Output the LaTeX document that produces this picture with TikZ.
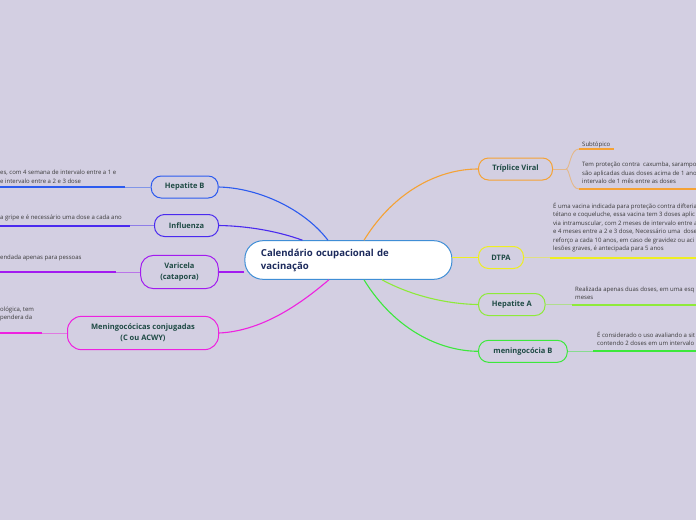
\documentclass[tikz,border=0pt]{standalone}
\usepackage{fontspec}
\setmainfont{Open Sans}
\usepackage{tikz}
\usetikzlibrary{calc,positioning}
\definecolor{mmbg}{HTML}{D3CFE2}
\definecolor{mmroot}{HTML}{3F8ED6}
\definecolor{mmroottxt}{HTML}{1C2A5C}
\definecolor{mmtxt}{HTML}{1E4A44}
\definecolor{mmleaf}{HTML}{3A3A3A}
\definecolor{mmorange}{HTML}{F5A235}
\definecolor{mmblue}{HTML}{2C5BEF}
\definecolor{mmindigo}{HTML}{4A2AEF}
\definecolor{mmpurple}{HTML}{A21BF0}
\definecolor{mmmagenta}{HTML}{EE22E0}
\definecolor{mmyellow}{HTML}{EEEE22}
\definecolor{mmlime}{HTML}{8EEA3A}
\definecolor{mmgreen}{HTML}{3CE83C}
\tikzset{
  rootnode/.style={draw=mmroot, line width=1pt, fill=white, rounded corners=18pt,
                   font=\fontsize{9.6}{13}\selectfont\bfseries, text=mmroottxt,
                   text width=175pt, align=left, inner xsep=16pt, inner ysep=0pt,
                   minimum width=206pt, minimum height=38.6pt},
  topic/.style={draw=#1, line width=1pt, rounded corners=10pt,
                font=\fontsize{7.5}{11}\selectfont\bfseries, text=mmtxt,
                align=center, inner sep=0pt, minimum height=22pt},
  leaf/.style={font=\fontsize{6}{8.4}\selectfont, text=mmleaf, align=left,
               inner sep=0pt, anchor=base west},
  link/.style={draw=#1, line width=1.1pt},
  stub/.style={draw=#1!50!mmbg, line width=0.9pt},
  uline/.style={draw=#1, line width=2pt},
}
\begin{document}
\begin{tikzpicture}[x=1pt, y=-1pt]
\useasboundingbox (0,0) rectangle (696,520);
\fill[mmbg] (0,0) rectangle (696,520);
\clip (0,0) rectangle (696,520);
% Central topic
\node[rootnode] (root) at (348.4,260) {Calendário ocupacional de\\vacinação};
% Main topics, left
\node[topic=mmblue, minimum width=67pt] (hepb) at (184.7,187) {Hepatite B};
\node[topic=mmindigo, minimum width=64pt] (flu) at (186.5,225.5) {Influenza};
\node[topic=mmpurple, minimum width=77.7pt, minimum height=33.3pt, rounded corners=13pt] (vari) at (179.5,272) {Varicela\\(catapora)};
\node[topic=mmmagenta, minimum width=151pt, minimum height=33.3pt, rounded corners=14pt] (meni) at (143,333) {Meningocócicas conjugadas\\(C ou ACWY)};
% Main topics, right
\node[topic=mmorange, minimum width=74pt] (trip) at (515.5,169) {Tríplice Viral};
\node[topic=mmyellow, minimum width=45pt] (dtpa) at (501,257.5) {DTPA};
\node[topic=mmlime, minimum width=66.5pt] (hepa) at (511.8,304.5) {Hepatite A};
\node[topic=mmgreen, minimum width=88.7pt] (menb) at (522.9,351.3) {meningocócia B};
% Links from the centre
\draw[link=mmblue] ($(root.north)+(-20.5,0)$) .. controls (305,210) and (260,188) .. (hepb.east);
\draw[link=mmindigo] ($(root.north)+(-46,0)$) .. controls (280,232) and (250,226) .. (flu.east);
\draw[link=mmpurple] (root.west |- vari.east) -- (vari.east);
\draw[link=mmmagenta] ($(root.south)+(-19.5,0)$) .. controls (305,300) and (265,331) .. (meni.east);
\draw[link=mmorange] ($(root.north)+(15.6,0)$) .. controls (395,190) and (440,169) .. (trip.west);
\draw[link=mmyellow] (root.east |- dtpa.west) -- (dtpa.west);
\draw[link=mmlime] ($(root.south)+(33.6,0)$) .. controls (410,295) and (445,304) .. (hepa.west);
\draw[link=mmgreen] ($(root.south)+(15.6,0)$) .. controls (395,330) and (440,351) .. (menb.west);
% Subtopics, left (cut by the page edge)
\node[leaf] (hepbtxt) at (0,183) {es, com 4 semana de intervalo entre a 1 e\\e intervalo entre a 2 e 3 dose};
\node[leaf] (flutxt) at (0,219.5) {a gripe e é necessário uma dose a cada ano};
\node[leaf] (varitxt) at (0,259.5) {endada apenas para pessoas};
\node[leaf] (menitxt) at (0,319.5) {ológica, tem\\pendera da};
\foreach \n/\c/\e in {hepb/mmblue/125, flu/mmindigo/129.6, vari/mmpurple/115.5, meni/mmmagenta/42}{
  \coordinate (\n end) at (\e,0 |- \n.west);
  \draw[stub=\c] (\n.west) -- (\n end);
  \draw[uline=\c] (\n end) -- (0,0 |- \n.west);
}
% Subtopics, right
\coordinate (tsplit) at ($(trip.east)+(13,0)$);
\coordinate (tsub) at (579,149);
\coordinate (tnote) at (579,189);
\draw[stub=mmorange] (trip.east) -- (tsplit);
\draw[stub=mmorange] (tsplit) .. controls (570,169) and (570,149) .. (tsub);
\draw[stub=mmorange] (tsplit) .. controls (570,169) and (570,189) .. (tnote);
\draw[uline=mmorange] (tsub) -- (614,149);
\draw[uline=mmorange] (tnote) -- (696,189);
\node[leaf] (subtxt) at (582,146.5) {Subtópico};
\node[leaf] (triptxt) at (582,183.5) {Tem proteção contra \ caxumba, sarampo\\são aplicadas duas doses acima de 1 ano\\intervalo de 1 mês entre as doses};
\node[leaf] (dtpatxt) at (553,250.5) {É uma vacina indicada para proteção contra difteria\\tétano e coqueluche, essa vacina tem 3 doses aplic\\via intramuscular, com 2 meses de intervalo entre a\\e 4 meses entre a 2 e 3 dose, Necessário uma \ dose\\reforço a cada 10 anos, em caso de gravidez ou aci\\lesões graves, é antecipada para 5 anos};
\node[leaf] (hepatxt) at (575,299.5) {Realizada apenas duas doses, em uma esq\\meses};
\node[leaf] (menbtxt) at (597,345.5) {É considerado o uso avaliando a sit\\contendo 2 doses em um intervalo d};
\foreach \n/\c/\s in {dtpa/mmyellow/550, hepa/mmlime/572, menb/mmgreen/593}{
  \coordinate (\n start) at (\s,0 |- \n.east);
  \draw[stub=\c] (\n.east) -- (\n start);
  \draw[uline=\c] (\n start) -- (696,0 |- \n.east);
}
\end{tikzpicture}
\end{document}
